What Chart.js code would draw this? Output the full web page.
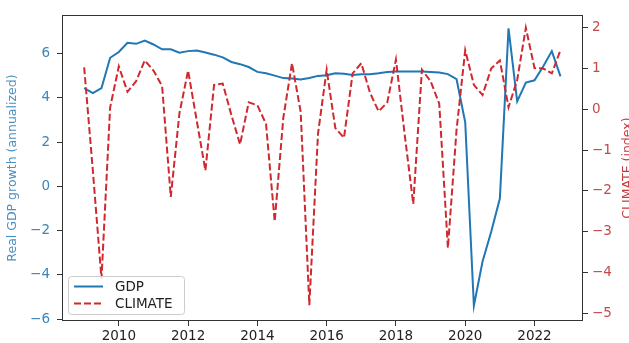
<!DOCTYPE html>
<html>
<head>
<meta charset="utf-8">
<script src="https://cdn.jsdelivr.net/npm/chart.js@4.4.0/dist/chart.umd.min.js"></script>
<style>
  html, body { margin: 0; padding: 0; background: #fff; }
  #wrap { width: 629px; height: 343px; }
</style>
</head>
<body>
<div id="wrap"><canvas id="chart" width="629" height="343"></canvas></div>
<script>
  const QUARTERS = [
    "2009Q1", "2009Q2", "2009Q3", "2009Q4", "2010Q1", "2010Q2", "2010Q3", "2010Q4",
    "2011Q1", "2011Q2", "2011Q3", "2011Q4", "2012Q1", "2012Q2", "2012Q3", "2012Q4",
    "2013Q1", "2013Q2", "2013Q3", "2013Q4", "2014Q1", "2014Q2", "2014Q3", "2014Q4",
    "2015Q1", "2015Q2", "2015Q3", "2015Q4", "2016Q1", "2016Q2", "2016Q3", "2016Q4",
    "2017Q1", "2017Q2", "2017Q3", "2017Q4", "2018Q1", "2018Q2", "2018Q3", "2018Q4",
    "2019Q1", "2019Q2", "2019Q3", "2019Q4", "2020Q1", "2020Q2", "2020Q3", "2020Q4",
    "2021Q1", "2021Q2", "2021Q3", "2021Q4", "2022Q1", "2022Q2", "2022Q3", "2022Q4",
  ];

  const GDP = [
    4.45, 4.22, 4.45, 5.82, 6.08, 6.5, 6.45, 6.6,
    6.42, 6.2, 6.2, 6.05, 6.12, 6.15, 6.06, 5.96,
    5.84, 5.63, 5.53, 5.4, 5.18, 5.12, 5.01, 4.9,
    4.88, 4.84, 4.9, 5.0, 5.03, 5.12, 5.1, 5.04,
    5.07, 5.07, 5.12, 5.18, 5.2, 5.2, 5.2, 5.2,
    5.18, 5.15, 5.08, 4.85, 2.9, -5.4, -3.4, -2.05,
    -0.55, 7.15, 3.85, 4.7, 4.8, 5.42, 6.12, 4.98,
  ];

  const CLIMATE = [
    1.03, -1.5, -4.15, 0.05, 1.05, 0.43, 0.69, 1.2,
    0.95, 0.57, -2.15, -0.1, 0.95, -0.28, -1.5, 0.6,
    0.63, -0.14, -0.86, 0.17, 0.1, -0.36, -2.75, -0.2,
    1.13, -0.06, -4.8, -0.6, 0.97, -0.46, -0.7, 0.88,
    1.13, 0.41, -0.05, 0.17, 1.22, -0.6, -2.32, 0.97,
    0.69, 0.14, -3.4, -0.5, 1.45, 0.6, 0.35, 1.0,
    1.2, 0.05, 0.72, 2.0, 1.01, 1.0, 0.88, 1.45,
  ];

  const YEAR_TICKS = [2010, 2012, 2014, 2016, 2018, 2020, 2022];
  const GDP_TICKS = [-6, -4, -2, 0, 2, 4, 6];
  const CLIMATE_TICKS = [-5, -4, -3, -2, -1, 0, 1, 2];

  const GDP_TITLE = "Real GDP growth (annualized)";
  const CLIMATE_TITLE = "CLIMATE (index)";

  const BLUE = "#1f77b4";
  const RED = "#d0282e";
  const FONT = "'DejaVu Sans', sans-serif";

  function quarterToYear(q) {
    const year = Number(q.slice(0, 4));
    const quarter = Number(q.slice(5));
    return year + (quarter - 1) / 4;
  }

  function formatTick(value) {
    return value < 0 ? "\u2212" + Math.abs(value) : String(value);
  }

  function fixedTicks(list) {
    return (scale) => {
      scale.ticks = list.map((value) => ({ value }));
    };
  }

  function toPoints(values) {
    return QUARTERS.map((q, i) => ({ x: quarterToYear(q), y: values[i] }));
  }

  const framePlugin = {
    id: "frame",
    afterDatasetsDraw(chart) {
      const { ctx, chartArea } = chart;
      ctx.save();
      ctx.strokeStyle = "#333";
      ctx.lineWidth = 1;
      ctx.strokeRect(
        Math.round(chartArea.left) + 0.5,
        Math.round(chartArea.top) + 0.5,
        Math.round(chartArea.right - chartArea.left) - 1,
        Math.round(chartArea.bottom - chartArea.top) - 1
      );
      ctx.restore();
    },
  };

  const axisTitlePlugin = {
    id: "axisTitles",
    afterDraw(chart) {
      const { ctx, chartArea } = chart;
      const midY = (chartArea.top + chartArea.bottom) / 2;
      ctx.save();
      ctx.font = `12.5px ${FONT}`;
      ctx.textAlign = "center";
      ctx.textBaseline = "middle";

      ctx.save();
      ctx.translate(13, midY);
      ctx.rotate(-Math.PI / 2);
      ctx.fillStyle = "#4a8fc0";
      ctx.fillText(GDP_TITLE, 0, 0);
      ctx.restore();

      // right label runs off the edge in the original
      ctx.save();
      ctx.translate(628, midY);
      ctx.rotate(-Math.PI / 2);
      ctx.fillStyle = "#c8383c";
      ctx.fillText(CLIMATE_TITLE, 0, 0);
      ctx.restore();

      ctx.restore();
    },
  };

  const legendPlugin = {
    id: "boxLegend",
    afterDraw(chart) {
      const { ctx, chartArea } = chart;
      const x = chartArea.left + 6;
      const y = chartArea.bottom - 45;
      const w = 116;
      const h = 38;
      const items = chart.data.datasets;

      ctx.save();
      ctx.beginPath();
      ctx.roundRect(x + 0.5, y + 0.5, w, h, 3);
      ctx.fillStyle = "rgba(255, 255, 255, 0.85)";
      ctx.fill();
      ctx.strokeStyle = "#cccccc";
      ctx.lineWidth = 1;
      ctx.stroke();

      items.forEach((ds, i) => {
        const rowY = y + 10.5 + i * 17;
        ctx.beginPath();
        ctx.setLineDash(ds.borderDash || []);
        ctx.strokeStyle = ds.borderColor;
        ctx.lineWidth = 2;
        ctx.moveTo(x + 6, rowY);
        ctx.lineTo(x + 35, rowY);
        ctx.stroke();
        ctx.setLineDash([]);

        ctx.fillStyle = "#222";
        ctx.font = `13.5px ${FONT}`;
        ctx.textAlign = "left";
        ctx.textBaseline = "middle";
        ctx.fillText(ds.label, x + 47, rowY + 0.5);
      });
      ctx.restore();
    },
  };

  const tickGrid = {
    drawOnChartArea: false,
    drawTicks: true,
    tickLength: 5,
    tickWidth: 1,
    color: "#333",
  };

  new Chart(document.getElementById("chart"), {
    type: "line",
    data: {
      datasets: [
        {
          label: "GDP",
          data: toPoints(GDP),
          yAxisID: "yGdp",
          borderColor: BLUE,
          borderWidth: 2,
          pointRadius: 0,
          tension: 0,
          order: 1,
        },
        {
          label: "CLIMATE",
          data: toPoints(CLIMATE),
          yAxisID: "yClimate",
          borderColor: RED,
          borderWidth: 2,
          borderDash: [7, 3],
          pointRadius: 0,
          tension: 0,
          order: 0,
        },
      ],
    },
    options: {
      responsive: false,
      animation: false,
      devicePixelRatio: 1,
      layout: { padding: { top: 7, right: 0, bottom: 0, left: 0 } },
      font: { family: FONT },
      plugins: {
        legend: { display: false },
        tooltip: { enabled: false },
      },
      scales: {
        x: {
          type: "linear",
          position: "bottom",
          min: 2008.36,
          max: 2023.4,
          afterBuildTicks: fixedTicks(YEAR_TICKS),
          afterFit(scale) {
            scale.height = 22;
          },
          grid: tickGrid,
          border: { display: false },
          ticks: {
            color: "#222",
            padding: 2,
            font: { family: FONT, size: 13.5 },
            callback: (v) => String(v),
          },
        },
        yGdp: {
          type: "linear",
          position: "left",
          min: -6.09,
          max: 7.75,
          afterBuildTicks: fixedTicks(GDP_TICKS),
          afterFit(scale) {
            scale.width = 62;
          },
          grid: tickGrid,
          border: { display: false },
          ticks: {
            color: "#3d84b8",
            padding: 7,
            font: { family: FONT, size: 13.5 },
            callback: formatTick,
          },
        },
        yClimate: {
          type: "linear",
          position: "right",
          min: -5.19,
          max: 2.31,
          afterBuildTicks: fixedTicks(CLIMATE_TICKS),
          afterFit(scale) {
            scale.width = 46;
          },
          grid: tickGrid,
          border: { display: false },
          ticks: {
            color: "#c44a4a",
            padding: 4,
            font: { family: FONT, size: 13.5 },
            callback: formatTick,
          },
        },
      },
    },
    plugins: [framePlugin, axisTitlePlugin, legendPlugin],
  });
</script>
</body>
</html>
